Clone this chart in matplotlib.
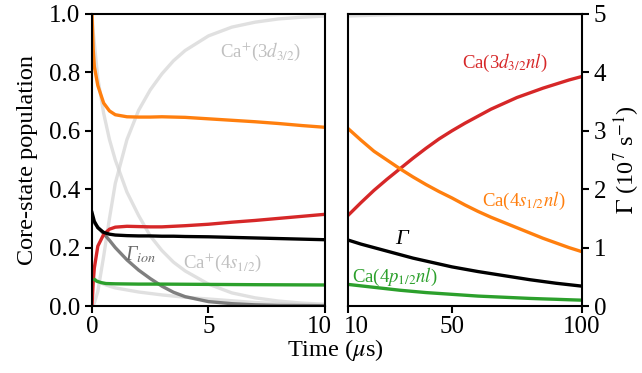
import numpy as np
import matplotlib
matplotlib.use("Agg")
import matplotlib.pyplot as plt
from matplotlib.transforms import ScaledTranslation

plt.rcParams['font.family'] = ['Liberation Serif', 'DejaVu Serif']
plt.rcParams['mathtext.fontset'] = 'stix'
plt.rcParams['font.size'] = 17.5
plt.rcParams['xtick.labelsize'] = 18
plt.rcParams['ytick.labelsize'] = 18
plt.rcParams['axes.linewidth'] = 1.5
plt.rcParams['xtick.major.width'] = 1.5
plt.rcParams['ytick.major.width'] = 1.5
plt.rcParams['xtick.major.size'] = 5
plt.rcParams['ytick.major.size'] = 5
plt.rcParams['xtick.major.pad'] = 2.5

# ---- left panel, 0-10 us (population units) ----
tL = [0, 0.05, 0.1, 0.25, 0.5, 0.75, 1, 1.5, 2, 2.5, 3, 3.5, 4, 5, 6, 7, 8, 9, 10]
orangeL = [1.0, 0.88, 0.82, 0.755, 0.695, 0.668, 0.655, 0.648, 0.647, 0.647, 0.648, 0.647, 0.646, 0.641, 0.636, 0.631, 0.625, 0.618, 0.612]
redL = [0.0, 0.08, 0.13, 0.205, 0.245, 0.263, 0.27, 0.273, 0.272, 0.271, 0.271, 0.273, 0.275, 0.28, 0.287, 0.293, 0.3, 0.307, 0.314]
blackL = [0.32, 0.305, 0.29, 0.268, 0.252, 0.246, 0.243, 0.241, 0.24, 0.24, 0.239, 0.239, 0.238, 0.237, 0.235, 0.233, 0.231, 0.229, 0.227]
gammaIon = [0.30, 0.29, 0.285, 0.27, 0.248, 0.225, 0.2, 0.158, 0.123, 0.094, 0.068, 0.047, 0.032, 0.015, 0.008, 0.004, 0.002, 0.0015, 0.001]
ca3d = [0.0, 0.005, 0.01, 0.05, 0.17, 0.3, 0.42, 0.57, 0.67, 0.74, 0.795, 0.84, 0.875, 0.925, 0.955, 0.972, 0.983, 0.989, 0.993]
ca4s = [1.0, 0.94, 0.9, 0.78, 0.66, 0.57, 0.5, 0.39, 0.31, 0.24, 0.19, 0.15, 0.12, 0.075, 0.045, 0.028, 0.017, 0.01, 0.006]
ca4p = [0.1, 0.097, 0.093, 0.085, 0.075, 0.068, 0.062, 0.055, 0.048, 0.043, 0.038, 0.034, 0.03, 0.024, 0.018, 0.012, 0.008, 0.005, 0.004]
tG = [0.12, 0.2, 0.4, 0.6, 1.0, 2, 3, 5, 7, 10]
greenL = [0.09, 0.085, 0.08, 0.077, 0.076, 0.075, 0.075, 0.074, 0.073, 0.072]

# ---- right panel, 10-100 us (Gamma, 1e7 s^-1) ----
tR = [10, 15, 20, 25, 30, 35, 40, 45, 50, 55, 60, 65, 70, 75, 80, 85, 90, 95, 100]
redR = [1.55, 1.77, 1.98, 2.17, 2.35, 2.53, 2.7, 2.86, 3.0, 3.13, 3.25, 3.37, 3.47, 3.57, 3.65, 3.73, 3.8, 3.87, 3.93]
orangeR = [3.04, 2.84, 2.65, 2.5, 2.35, 2.21, 2.08, 1.96, 1.85, 1.73, 1.62, 1.52, 1.43, 1.34, 1.25, 1.16, 1.08, 1.0, 0.93]
blackR = [1.13, 1.06, 1.0, 0.94, 0.88, 0.82, 0.77, 0.72, 0.67, 0.63, 0.59, 0.555, 0.52, 0.485, 0.45, 0.42, 0.39, 0.365, 0.34]
greenR = [0.37, 0.345, 0.32, 0.295, 0.27, 0.25, 0.23, 0.215, 0.2, 0.185, 0.17, 0.16, 0.15, 0.14, 0.13, 0.122, 0.115, 0.107, 0.1]
tR3d = [10, 20, 30, 50, 100]
ca3dR = [4.965, 4.98, 4.99, 4.995, 5.0]

lw = 2.4
light = dict(color="lightgray", alpha=0.7, lw=lw)

fig = plt.figure(figsize=(6.42, 3.73), dpi=100)
ax1 = fig.add_axes([0.1433, 0.1796, 0.3629, 0.7829])
ax2 = fig.add_axes([0.542, 0.1796, 0.3645, 0.7829])

ax1.plot(tL, ca3d, **light)
ax1.plot(tL, ca4s, **light)
ax1.plot(tL, ca4p, **light)
ax1.plot(tL, gammaIon, color="dimgray", alpha=0.85, lw=lw)
ax1.plot(tL, orangeL, color="tab:orange", lw=lw)
ax1.plot(tL, redL, color="tab:red", lw=lw)
ax1.plot(tG, greenL, color="tab:green", lw=lw)
ax1.plot(tL, blackL, color="black", lw=lw)
ax1.set_xlim(0, 10)
ax1.set_ylim(0, 1)
ax1.set_xticks([0, 5, 10])
ax1.set_yticks([0, 0.2, 0.4, 0.6, 0.8, 1.0])
ax1.set_yticklabels(["0.0", "0.2", "0.4", "0.6", "0.8", "1.0"])
ax1.set_ylabel("Core-state population", labelpad=8)
ax1.text(5.5, 0.87, r"Ca$^{+}$(3$d_{3/2}$)", color="silver", va="center", fontsize=13.5)
ax1.text(1.4, 0.175, r"Γ$_{ion}$", color="dimgray", va="center", fontsize=14.5, style="italic")
ax1.text(3.9, 0.15, r"Ca$^{+}$(4$s_{1/2}$)", color="silver", va="center", fontsize=13.5)

ax2.plot(tR3d, ca3dR, **light)
ax2.plot(tR, redR, color="tab:red", lw=lw)
ax2.plot(tR, orangeR, color="tab:orange", lw=lw)
ax2.plot(tR, greenR, color="tab:green", lw=lw)
ax2.plot(tR, blackR, color="black", lw=lw)
ax2.set_xlim(10, 100)
ax2.set_ylim(0, 5)
ax2.set_xticks([10, 50, 100])
ax2.yaxis.tick_right()
ax2.yaxis.set_label_position("right")
ax2.set_yticks([0, 1, 2, 3, 4, 5])
ax2.set_ylabel(r"$\Gamma$ (10$^7$ s$^{-1}$)", labelpad=4)
ax2.text(54, 4.17, r"Ca(3$d_{3/2}nl$)", color="tab:red", va="center", fontsize=13.5)
ax2.text(61.5, 1.8, r"Ca(4$s_{1/2}nl$)", color="tab:orange", va="center", fontsize=13.5)
ax2.text(28, 1.14, "Γ", color="black", va="center", fontsize=16, style="italic")
ax2.text(11.5, 0.5, r"Ca(4$p_{1/2}nl$)", color="tab:green", va="center", fontsize=13.5)

# nudge the two "10" labels apart, as in the original
lab = ax1.get_xticklabels()[-1]
lab.set_transform(lab.get_transform() + ScaledTranslation(-0.06, 0, fig.dpi_scale_trans))
lab = ax2.get_xticklabels()[0]
lab.set_transform(lab.get_transform() + ScaledTranslation(0.08, 0, fig.dpi_scale_trans))

fig.text(0.522, 0.045, r"Time ($\mu$s)", ha="center", va="baseline")

fig.savefig("out.png", dpi=100)
